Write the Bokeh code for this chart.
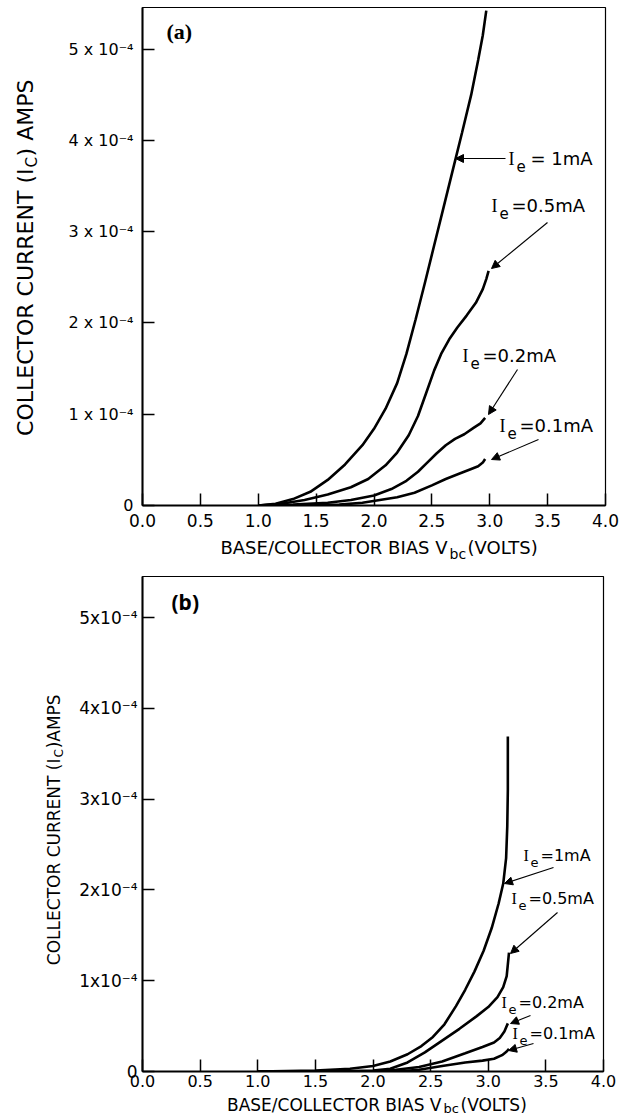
import math
from bokeh.plotting import figure
from bokeh.models import Range1d, FixedTicker, PrintfTickFormatter, Label, Arrow, NormalHead
from bokeh.layouts import column, row
from bokeh.embed import file_html
from bokeh.resources import INLINE

# ---------------- data (collector current in units of 1e-4 A) ----------------
x_ticks = [0.0, 0.5, 1.0, 1.5, 2.0, 2.5, 3.0, 3.5, 4.0]
y_ticks = [0, 1, 2, 3, 4, 5]
y_labels_a = ["0", "1 x 10⁻⁴", "2 x 10⁻⁴", "3 x 10⁻⁴", "4 x 10⁻⁴", "5 x 10⁻⁴"]
y_labels_b = ["0", "1x10⁻⁴", "2x10⁻⁴", "3x10⁻⁴", "4x10⁻⁴", "5x10⁻⁴"]

# panel (a)
vbc_a_1mA = [1.00, 1.15, 1.30, 1.45, 1.60, 1.75, 1.90, 2.00, 2.10, 2.20, 2.28, 2.36, 2.44,
             2.52, 2.60, 2.68, 2.76, 2.84, 2.90, 2.94, 2.97]
ic_a_1mA = [0.00, 0.02, 0.07, 0.15, 0.28, 0.45, 0.66, 0.84, 1.06, 1.34, 1.66, 2.04, 2.44,
            2.85, 3.26, 3.67, 4.08, 4.50, 4.88, 5.15, 5.42]
vbc_a_05mA = [1.00, 1.20, 1.40, 1.60, 1.80, 1.95, 2.10, 2.20, 2.30, 2.38, 2.45, 2.52, 2.58,
              2.65, 2.72, 2.80, 2.88, 2.94, 2.97, 2.99]
ic_a_05mA = [0.00, 0.02, 0.06, 0.12, 0.20, 0.29, 0.44, 0.58, 0.77, 0.98, 1.23, 1.48, 1.66,
             1.82, 1.95, 2.08, 2.22, 2.37, 2.48, 2.57]
vbc_a_02mA = [1.00, 1.30, 1.60, 1.80, 2.00, 2.15, 2.28, 2.38, 2.46, 2.54, 2.62, 2.70, 2.78,
              2.86, 2.92, 2.96]
ic_a_02mA = [0.00, 0.01, 0.03, 0.06, 0.11, 0.18, 0.27, 0.37, 0.47, 0.57, 0.66, 0.73, 0.78,
             0.85, 0.90, 0.96]
vbc_a_01mA = [1.00, 1.40, 1.70, 1.90, 2.05, 2.20, 2.35, 2.50, 2.62, 2.74, 2.84, 2.90, 2.94, 2.96]
ic_a_01mA = [0.00, 0.00, 0.01, 0.03, 0.06, 0.09, 0.14, 0.22, 0.29, 0.35, 0.40, 0.43, 0.47, 0.51]

# panel (b)
vbc_b_1mA = [1.00, 1.50, 1.80, 2.00, 2.15, 2.30, 2.42, 2.52, 2.62, 2.72, 2.80, 2.88, 2.96,
             3.03, 3.09, 3.13, 3.155, 3.165, 3.17, 3.17]
ic_b_1mA = [0.00, 0.01, 0.03, 0.06, 0.11, 0.19, 0.28, 0.38, 0.52, 0.72, 0.90, 1.10, 1.33,
            1.58, 1.85, 2.07, 2.35, 2.70, 3.10, 3.69]
vbc_b_05mA = [1.00, 1.60, 2.00, 2.15, 2.30, 2.45, 2.60, 2.75, 2.90, 3.00, 3.08, 3.13, 3.16, 3.17, 3.18]
ic_b_05mA = [0.00, 0.00, 0.01, 0.03, 0.10, 0.21, 0.34, 0.47, 0.61, 0.71, 0.82, 0.93, 1.05, 1.18, 1.31]
vbc_b_02mA = [1.00, 2.00, 2.20, 2.40, 2.60, 2.80, 2.95, 3.05, 3.10, 3.14, 3.17]
ic_b_02mA = [0.00, 0.00, 0.02, 0.05, 0.11, 0.20, 0.27, 0.32, 0.37, 0.44, 0.53]
vbc_b_01mA = [1.00, 2.20, 2.40, 2.60, 2.80, 2.95, 3.05, 3.12, 3.16, 3.18]
ic_b_01mA = [0.00, 0.00, 0.02, 0.06, 0.10, 0.12, 0.14, 0.18, 0.22, 0.25]

FONT = "DejaVu Sans"
YLAB_W = 64
MAIN_W = 560


def make_panel(height, ymax, b_top, b_bottom, b_right, ylabels, ysize, ystand, xsize, xstand):
    p = figure(width=MAIN_W, height=height, x_range=Range1d(0, 4), y_range=Range1d(0, ymax),
               output_backend="svg", toolbar_location=None,
               min_border_left=142 - YLAB_W, min_border_right=b_right,
               min_border_top=b_top, min_border_bottom=b_bottom,
               background_fill_color="white", border_fill_color="white")
    p.grid.visible = False
    p.outline_line_color = "black"
    p.outline_line_width = 1.2
    for ax in (p.xaxis[0], p.yaxis[0]):
        ax.axis_line_width = 2
        ax.axis_line_color = "black"
        ax.major_tick_in = 12
        ax.major_tick_out = 0
        ax.major_tick_line_width = 1.5
        ax.major_tick_line_color = "black"
        ax.minor_tick_line_color = None
        ax.major_label_text_font = FONT
        ax.major_label_text_color = "black"
    p.xaxis.ticker = FixedTicker(ticks=x_ticks)
    p.xaxis.formatter = PrintfTickFormatter(format="%.1f")
    p.xaxis.major_label_text_font_size = xsize
    p.xaxis.major_label_standoff = xstand
    p.yaxis.ticker = FixedTicker(ticks=y_ticks)
    p.yaxis.major_label_overrides = {t: s for t, s in zip(y_ticks, ylabels)}
    p.yaxis.major_label_text_font_size = ysize
    p.yaxis.major_label_standoff = ystand
    return p


def text_panel(w, h):
    # blank canvas whose data units are pixels measured from its top-left corner
    t = figure(width=w, height=h, x_range=Range1d(0, w), y_range=Range1d(h, 0),
               output_backend="svg", toolbar_location=None, min_border=0,
               x_axis_type=None, y_axis_type=None,
               background_fill_color="white", border_fill_color="white")
    t.outline_line_color = None
    return t


def lbl(p, x, y, text, size, font=FONT, align="left", baseline="middle", angle=0.0,
        dx=0, dy=0, style="normal"):
    p.add_layout(Label(x=x, y=y, text=text, text_font=font, text_font_size=size,
                       text_align=align, text_baseline=baseline, angle=angle,
                       x_offset=dx, y_offset=dy, text_color="black",
                       text_font_style=style))


def ie_label(p, x, y, value, size_main, size_sub, dx_sub, dx_rest):
    lbl(p, x, y, "I", size_main, font="Liberation Serif")
    lbl(p, x, y, "e", size_sub, dx=dx_sub, dy=-7)
    lbl(p, x, y, value, size_main, dx=dx_rest)


def arrow(p, xs, ys, xe, ye):
    p.add_layout(Arrow(end=NormalHead(size=8, line_color="black", fill_color="black", line_width=1),
                       x_start=xs, y_start=ys, x_end=xe, y_end=ye,
                       line_color="black", line_width=1.1))


# ---------------- panel (a) ----------------
pa = make_panel(535, 498 / 91.3, 7, 30, MAIN_W - (142 - YLAB_W) - 463, y_labels_a,
                "16px", 9, "17px", 8)
for v, i in [(vbc_a_1mA, ic_a_1mA), (vbc_a_05mA, ic_a_05mA),
             (vbc_a_02mA, ic_a_02mA), (vbc_a_01mA, ic_a_01mA)]:
    pa.line(v, i, line_color="black", line_width=2.6)


def A(px, py):
    return (px - 142) / 115.75, (505 - py) / 91.3


x, y = A(508, 158); ie_label(pa, x, y, "= 1mA", "18px", "15px", 8, 22)
x0, y0 = A(505, 158); x1, y1 = A(455, 158); arrow(pa, x0, y0, x1, y1)
x, y = A(491, 205); ie_label(pa, x, y, "=0.5mA", "18px", "15px", 8, 20)
x0, y0 = A(547, 222); x1, y1 = A(491, 268); arrow(pa, x0, y0, x1, y1)
x, y = A(462, 355); ie_label(pa, x, y, "=0.2mA", "18px", "15px", 8, 20)
x0, y0 = A(517, 369); x1, y1 = A(488, 414); arrow(pa, x0, y0, x1, y1)
x, y = A(499, 425); ie_label(pa, x, y, "=0.1mA", "18px", "15px", 8, 20)
x0, y0 = A(538, 439); x1, y1 = A(491, 459); arrow(pa, x0, y0, x1, y1)

x, y = A(166, 31); lbl(pa, x, y, "(a)", "22px", font="Liberation Serif", style="bold")

# y title (a)
ya = text_panel(YLAB_W, 535)
lbl(ya, 25, 173, "COLLECTOR CURRENT (I", "22px", align="right", angle=math.pi / 2)
lbl(ya, 25, 172, "C", "15px", align="left", angle=math.pi / 2, dx=6)
lbl(ya, 25, 160, ") AMPS", "22px", align="left", angle=math.pi / 2)

# x title (a)
xa = text_panel(YLAB_W + MAIN_W, 27)
lbl(xa, 447, 12, "BASE/COLLECTOR BIAS V", "18px", align="right")
lbl(xa, 447, 12, "bc", "14px", dx=2, dy=-6)
lbl(xa, 447, 12, "(VOLTS)", "18px", dx=20)

# ---------------- panel (b) ----------------
pb = make_panel(533, 495 / 90.8, 14, 24, MAIN_W - (142 - YLAB_W) - 461, y_labels_b,
                "17px", 5, "16px", 3)
for v, i in [(vbc_b_1mA, ic_b_1mA), (vbc_b_05mA, ic_b_05mA),
             (vbc_b_02mA, ic_b_02mA), (vbc_b_01mA, ic_b_01mA)]:
    pb.line(v, i, line_color="black", line_width=2.6)


def B(px, py):
    return (px - 142) / 115.25, (1071 - py) / 90.8


x, y = B(523, 855); ie_label(pb, x, y, "=1mA", "16px", "13px", 7, 17)
x0, y0 = B(553, 867); x1, y1 = B(504, 883); arrow(pb, x0, y0, x1, y1)
x, y = B(511, 898); ie_label(pb, x, y, "=0.5mA", "16px", "13px", 7, 17)
x0, y0 = B(557, 912); x1, y1 = B(510, 953); arrow(pb, x0, y0, x1, y1)
x, y = B(501, 1002); ie_label(pb, x, y, "=0.2mA", "16px", "13px", 7, 17)
x0, y0 = B(530, 1015); x1, y1 = B(510, 1023); arrow(pb, x0, y0, x1, y1)
x, y = B(512, 1033); ie_label(pb, x, y, "=0.1mA", "16px", "13px", 7, 17)
x0, y0 = B(533, 1043); x1, y1 = B(508, 1050); arrow(pb, x0, y0, x1, y1)

x, y = B(171, 601); lbl(pb, x, y, "(b)", "21px", font="Noto Sans", style="bold")

# y title (b) -- its canvas starts at page y = 562
yb = text_panel(YLAB_W, 533)
lbl(yb, 53, 758 - 562, "COLLECTOR CURRENT (I", "17px", align="right", angle=math.pi / 2)
lbl(yb, 53, 757 - 562, "C", "12px", align="left", angle=math.pi / 2, dx=5)
lbl(yb, 53, 747 - 562, ")AMPS", "17px", align="left", angle=math.pi / 2)

# x title (b) -- its canvas starts at page y = 1095
xb = text_panel(YLAB_W + MAIN_W, 22)
lbl(xb, 441, 9, "BASE/COLLECTOR BIAS V", "17px", align="right")
lbl(xb, 441, 9, "bc", "13px", dx=2, dy=-4)
lbl(xb, 441, 9, "(VOLTS)", "17px", dx=19)

layout = column(row(ya, pa), xa, row(yb, pb), xb)
open("out.html", "w").write(file_html(layout, INLINE))
